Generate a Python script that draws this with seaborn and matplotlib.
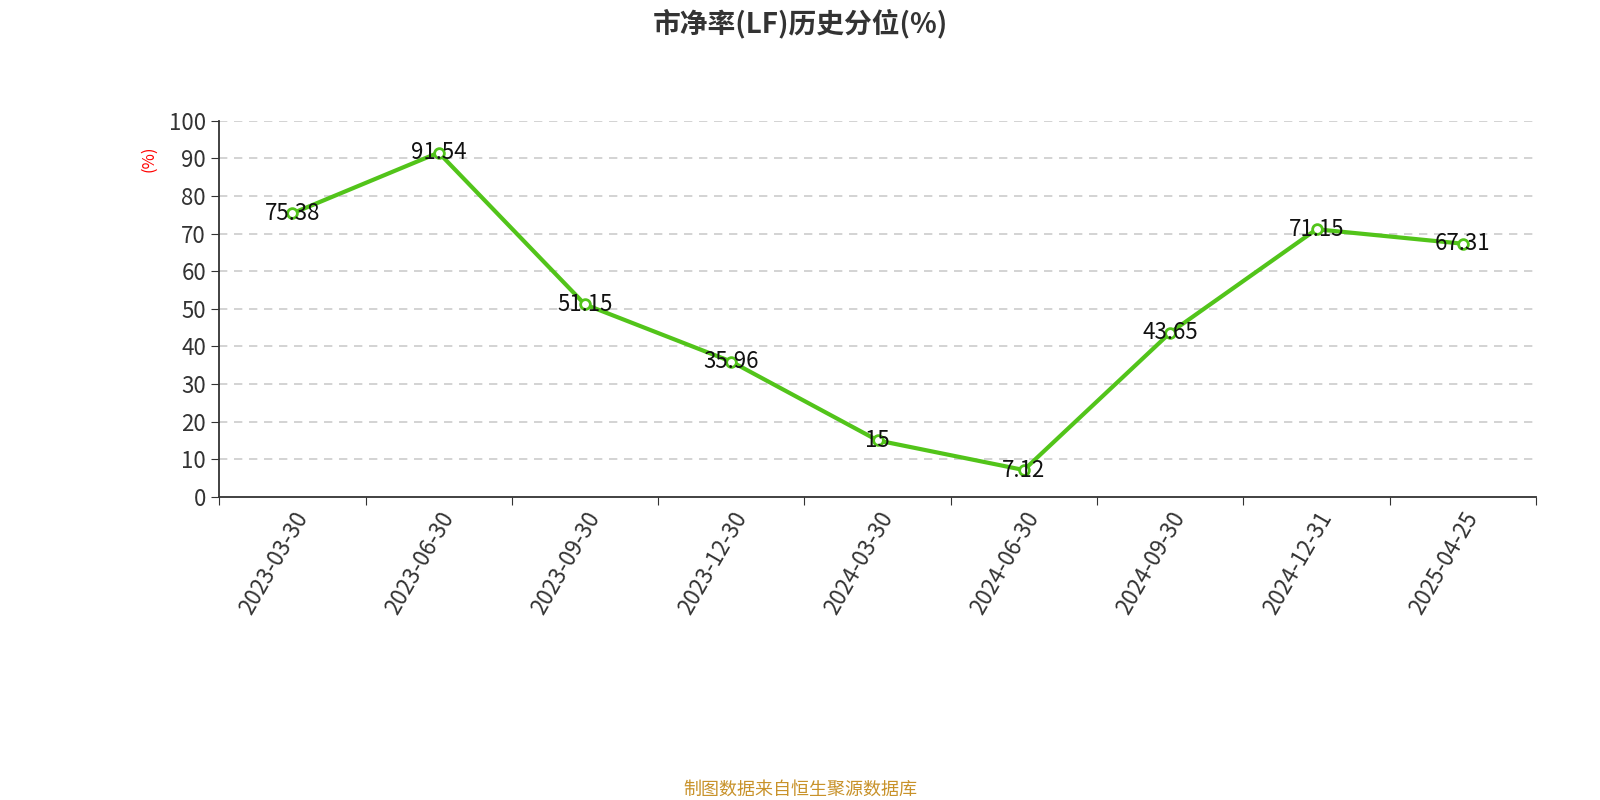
import matplotlib
matplotlib.use("Agg")
import matplotlib.pyplot as plt
import seaborn as sns
import pandas as pd
import numpy as np

dates = ['2023-03-30', '2023-06-30', '2023-09-30', '2023-12-30', '2024-03-30',
         '2024-06-30', '2024-09-30', '2024-12-31', '2025-04-25']
values = [75.38, 91.54, 51.15, 35.96, 15, 7.12, 43.65, 71.15, 67.31]
labels = ['75.38', '91.54', '51.15', '35.96', '15', '7.12', '43.65', '71.15', '67.31']

sns.set_style("white")
plt.rcParams['font.family'] = ['Noto Sans CJK SC', 'DejaVu Sans']

df = pd.DataFrame({'x': np.arange(len(dates)), 'v': values})
fig = plt.figure(figsize=(16, 8), dpi=100)
ax = fig.add_axes([0.137, 0.379, 0.823, 0.470])
green = '#52c41a'
sns.lineplot(data=df, x='x', y='v', ax=ax, color=green, linewidth=3,
             marker='o', markersize=7, markerfacecolor='white',
             markeredgecolor=green, markeredgewidth=2)
for x, v, t in zip(df['x'], values, labels):
    ax.text(x, v, t, ha='center', va='center', fontsize=16, color='#111111')

ax.set_xlim(-0.5, len(dates) - 0.5)
ax.set_ylim(0, 100)
ax.set_yticks(range(0, 101, 10))
ax.set_xticks(np.arange(len(dates) + 1) - 0.5)
ax.set_xticklabels([])
ax.set_xticks(np.arange(len(dates)), minor=True)
ax.set_xticklabels(dates, minor=True, rotation=60, ha='right', rotation_mode='anchor', fontsize=16, color='#333333')
ax.tick_params(axis='x', which='major', length=6, color='#333333', direction='out', bottom=True)
ax.tick_params(axis='x', which='minor', length=0, pad=8)
ax.tick_params(axis='y', labelsize=16, labelcolor='#333333', length=6, color='#333333', left=True)
for y in range(10, 101, 10):
    ax.axhline(y, color='#cccccc', linestyle=(0, (5, 4)), linewidth=1.2, zorder=0)
for s in ['top', 'right']:
    ax.spines[s].set_visible(False)
for s in ['left', 'bottom']:
    ax.spines[s].set_color('#333333')
    ax.spines[s].set_linewidth(1.3)
ax.set_xlabel('')
ax.set_ylabel('(%)', color='red', fontsize=12, labelpad=2)
ax.yaxis.set_label_coords(-0.047, 0.9)

fig.text(0.5, 0.97, '市净率(LF)历史分位(%)', ha='center', va='center', fontsize=20, fontweight='bold', color='#333333')
fig.text(0.5, 0.013, '制图数据来自恒生聚源数据库', ha='center', va='center', fontsize=13, color='#c8922a')
fig.savefig('out.png')
